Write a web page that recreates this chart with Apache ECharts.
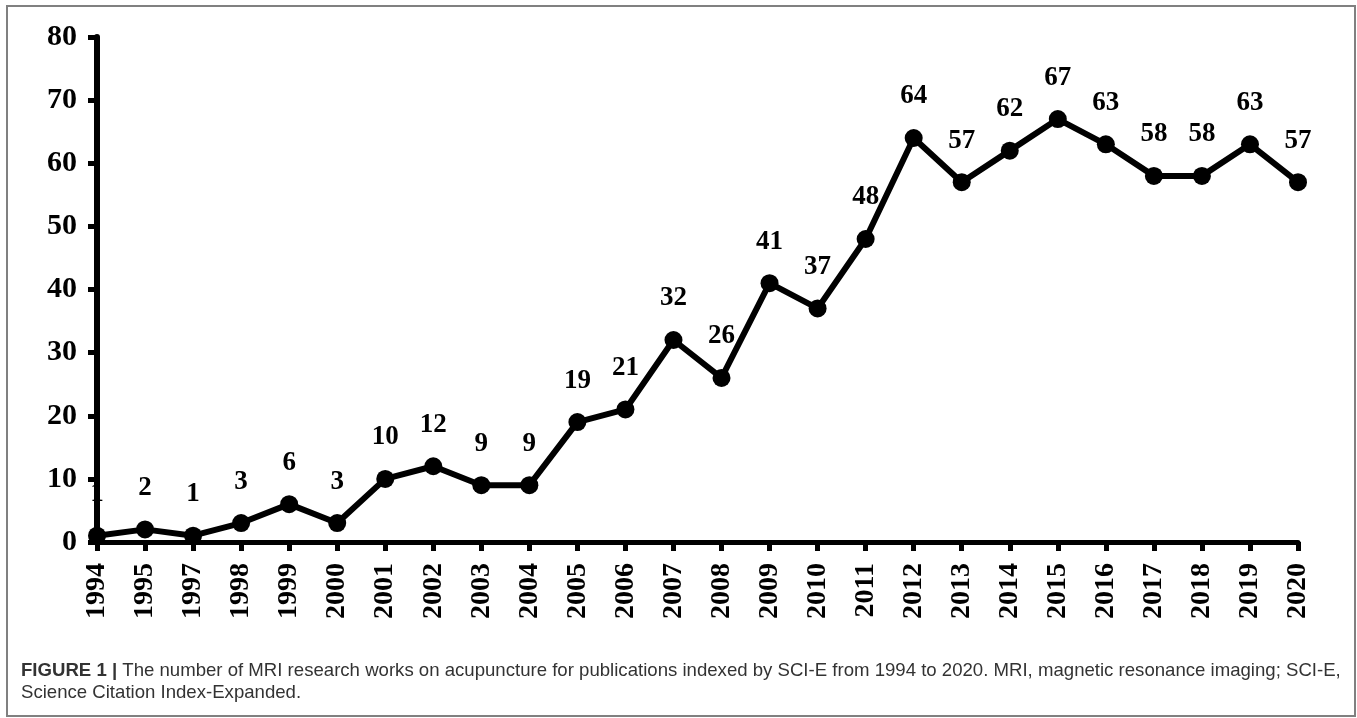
<!DOCTYPE html>
<html>
<head>
<meta charset="utf-8">
<script src="https://cdn.jsdelivr.net/npm/echarts@6/dist/echarts.min.js"></script>
<style>
  html, body { margin: 0; padding: 0; background: #fff; }
  #main { width: 1357px; height: 718px; }
</style>
</head>
<body>
<div id="main"></div>
<script>
var years = ['1994', '1995', '1997', '1998', '1999', '2000', '2001', '2002', '2003', '2004',
	'2005', '2006', '2007', '2008', '2009', '2010', '2011', '2012', '2013', '2014',
	'2015', '2016', '2017', '2018', '2019', '2020'];
var counts = [1, 2, 1, 3, 6, 3, 10, 12, 9, 9, 19, 21, 32, 26, 41, 37, 48, 64, 57, 62, 67, 63, 58, 58, 63, 57];
var yTicks = { min: 0, max: 80, step: 10 };

var captionBold = 'FIGURE 1 |';
var captionLine1 = ' The number of MRI research works on acupuncture for publications indexed by SCI-E from 1994 to 2020. MRI, magnetic resonance imaging; SCI-E,';
var captionLine2 = 'Science Citation Index-Expanded.';

var serif = '"Liberation Serif", "Times New Roman", serif';
var sans = '"Liberation Sans", Arial, sans-serif';

var chart = echarts.init(document.getElementById('main'));

var option = {
	backgroundColor: '#fff',
	animation: false,
	grid: {
		left: 97,
		right: 59,
		top: 37,
		bottom: 176
	},
	xAxis: {
		type: 'category',
		data: years,
		boundaryGap: false,
		axisLine: { lineStyle: { color: '#000', width: 5 } },
		axisTick: { alignWithLabel: true, length: 9, lineStyle: { color: '#000', width: 5 } },
		axisLabel: {
			interval: 0,
			rotate: 90,
			margin: 21,
			color: '#000',
			fontFamily: serif,
			fontWeight: 'bold',
			fontSize: 28
		},
		splitLine: { show: false }
	},
	yAxis: {
		type: 'value',
		min: yTicks.min,
		max: yTicks.max,
		interval: yTicks.step,
		axisLine: { show: true, lineStyle: { color: '#000', width: 6 } },
		axisTick: { show: true, length: 9, lineStyle: { color: '#000', width: 5 } },
		axisLabel: {
			margin: 20,
			color: '#000',
			fontFamily: serif,
			fontWeight: 'bold',
			fontSize: 30
		},
		splitLine: { show: false }
	},
	series: [
		{
			type: 'line',
			data: counts,
			symbol: 'circle',
			symbolSize: 18,
			lineStyle: { color: '#000', width: 6 },
			itemStyle: { color: '#000' },
			label: {
				show: true,
				position: 'top',
				distance: 19,
				color: '#000',
				fontFamily: serif,
				fontWeight: 'bold',
				fontSize: 27
			}
		}
	],
	graphic: [
		{
			type: 'rect',
			shape: { x: 7, y: 6, width: 1348, height: 710 },
			style: { fill: null, stroke: '#808080', lineWidth: 2 },
			silent: true
		},
		{
			type: 'text',
			left: 21,
			top: 661,
			style: {
				text: '{b|' + captionBold + '}{n|' + captionLine1 + '}\n{n|' + captionLine2 + '}',
				rich: {
					b: { fontFamily: sans, fontWeight: 'bold', fontSize: 18.6, fill: '#333', lineHeight: 22 },
					n: { fontFamily: sans, fontSize: 18.6, fill: '#333', lineHeight: 22 }
				}
			}
		}
	]
};

chart.setOption(option);
</script>
</body>
</html>
